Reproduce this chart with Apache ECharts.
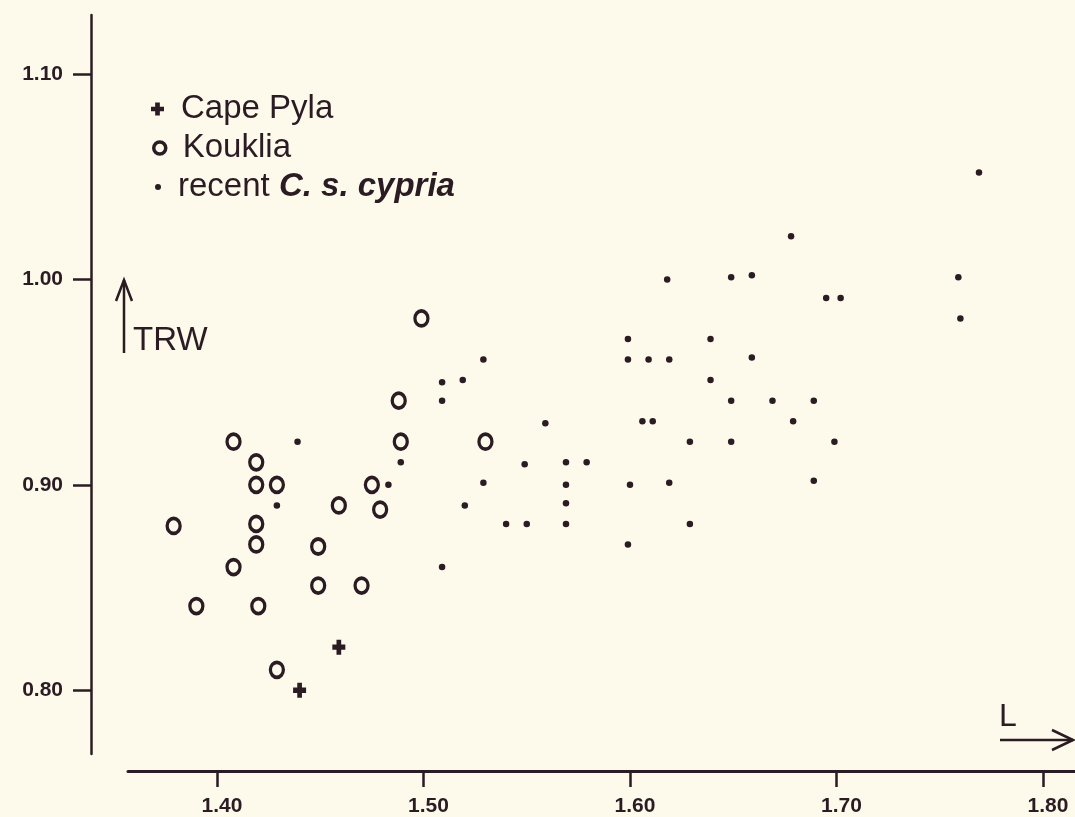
<!DOCTYPE html>
<html>
<head>
<meta charset="utf-8">
<script src="https://cdn.jsdelivr.net/npm/echarts@6/dist/echarts.min.js"></script>
<style>
html,body{margin:0;padding:0;background:#fdfaec;}
#chart{width:1075px;height:817px;}
</style>
</head>
<body>
<div id="chart"></div>
<script>
// ---- data ----
const xTicks = [1.40, 1.50, 1.60, 1.70, 1.80];
const yTicks = [0.80, 0.90, 1.00, 1.10];

const seriesNames = ['Cape Pyla', 'Kouklia', 'recent C. s. cypria'];

const capePylaL   = [1.459, 1.440];
const capePylaTRW = [0.821, 0.800];

const koukliaL   = [1.488, 1.408, 1.489, 1.419, 1.419, 1.429, 1.475, 1.459, 1.479, 1.379, 1.419,
                    1.419, 1.449, 1.408, 1.449, 1.470, 1.390, 1.420, 1.429, 1.499, 1.530];
const koukliaTRW = [0.941, 0.921, 0.921, 0.911, 0.900, 0.900, 0.900, 0.890, 0.888, 0.880, 0.881,
                    0.871, 0.870, 0.860, 0.851, 0.851, 0.841, 0.841, 0.810, 0.981, 0.921];

const recentL   = [1.509, 1.509, 1.439, 1.489, 1.483, 1.429, 1.509, 1.618,
                   1.599, 1.529, 1.599, 1.609, 1.619, 1.519, 1.559, 1.606, 1.611, 1.629,
                   1.549, 1.569, 1.579, 1.529, 1.569, 1.600, 1.619, 1.520, 1.569, 1.540,
                   1.550, 1.569, 1.629, 1.599,
                   1.678, 1.649, 1.659, 1.695, 1.702, 1.639, 1.659, 1.639, 1.649, 1.669,
                   1.689, 1.679, 1.649, 1.699, 1.689,
                   1.769, 1.759, 1.760];
const recentTRW = [0.950, 0.941, 0.921, 0.911, 0.900, 0.890, 0.860, 1.000,
                   0.971, 0.961, 0.961, 0.961, 0.961, 0.951, 0.930, 0.931, 0.931, 0.921,
                   0.910, 0.911, 0.911, 0.901, 0.900, 0.900, 0.901, 0.890, 0.891, 0.881,
                   0.881, 0.881, 0.881, 0.871,
                   1.021, 1.001, 1.002, 0.991, 0.991, 0.971, 0.962, 0.951, 0.941, 0.941,
                   0.941, 0.931, 0.921, 0.921, 0.902,
                   1.052, 1.001, 0.981];

// ---- chart ----
const ink = '#2b1b22';
const zip = (a, b) => a.map((v, i) => [v, b[i]]);
const crossPath = 'path://M3.2,0 L6.8,0 L6.8,3.2 L10,3.2 L10,6.8 L6.8,6.8 L6.8,10 L3.2,10 L3.2,6.8 L0,6.8 L0,3.2 L3.2,3.2 Z';
const font = '"Liberation Sans", Arial, Helvetica, sans-serif';

const chart = echarts.init(document.getElementById('chart'), null, {renderer: 'canvas'});

const legendText = {
  color: ink, fontFamily: font, fontSize: 33, lineHeight: 36,
  padding: [0, 0, 0, 12],
  rich: {
    n: {color: ink, fontFamily: font, fontSize: 33, lineHeight: 36},
    i: {color: ink, fontFamily: font, fontSize: 33, lineHeight: 36, fontStyle: 'italic', fontWeight: 'bold'}
  }
};

const option = {
  backgroundColor: '#fdfaec',
  animation: false,
  grid: {left: 128, right: 0, top: 15, bottom: 60, containLabel: false},
  xAxis: {
    type: 'value',
    min: 1.3569, max: 1.8155,
    offset: 17,
    axisLine: {show: true, lineStyle: {color: ink, width: 3}},
    axisTick: {show: true, length: 16, lineStyle: {color: ink, width: 2.5}, customValues: xTicks},
    axisLabel: {
      show: true, customValues: xTicks, margin: 25, color: ink, fontFamily: font, fontSize: 21,
      fontWeight: 'bold', padding: [0, 0, 0, 10],
      formatter: v => v.toFixed(2)
    },
    splitLine: {show: false}
  },
  yAxis: {
    type: 'value',
    min: 0.769, max: 1.1287,
    offset: 37,
    axisLine: {show: true, lineStyle: {color: ink, width: 2.5}},
    axisTick: {show: true, length: 18, lineStyle: {color: ink, width: 2.5}, customValues: yTicks},
    axisLabel: {
      show: true, customValues: yTicks, margin: 28, color: ink, fontFamily: font, fontSize: 21,
      fontWeight: 'bold',
      formatter: v => v.toFixed(2)
    },
    splitLine: {show: false}
  },
  legend: [
    {data: [seriesNames[0]], left: 146, top: 86, itemWidth: 13, itemHeight: 13, textStyle: legendText, selectedMode: false},
    {data: [seriesNames[1]], left: 147, top: 125, itemWidth: 12, itemHeight: 13, textStyle: legendText, selectedMode: false,
     itemStyle: {borderWidth: 3.5, borderColor: ink, color: 'rgba(0,0,0,0)'}},
    {data: [seriesNames[2]], left: 150, top: 164, itemWidth: 6, itemHeight: 6, textStyle: legendText, selectedMode: false,
     formatter: () => '{n|recent }{i|C. s. cypria}'}
  ],
  series: [
    {
      name: seriesNames[0], type: 'scatter', data: zip(capePylaL, capePylaTRW),
      symbol: crossPath, symbolSize: [13, 15],
      itemStyle: {color: ink, opacity: 1}
    },
    {
      name: seriesNames[1], type: 'scatter', data: zip(koukliaL, koukliaTRW),
      symbol: 'circle', symbolSize: [13, 15],
      itemStyle: {color: 'rgba(0,0,0,0)', borderColor: ink, borderWidth: 3.5, opacity: 1}
    },
    {
      name: seriesNames[2], type: 'scatter', data: zip(recentL, recentTRW),
      symbol: 'circle', symbolSize: 6.5,
      itemStyle: {color: ink, opacity: 1}
    }
  ],
  graphic: [
    // TRW axis annotation
    {type: 'polyline', shape: {points: [[124, 353], [124, 280]]}, style: {stroke: ink, lineWidth: 2.5}},
    {type: 'polyline', shape: {points: [[116, 301], [124, 280], [132, 301]]}, style: {stroke: ink, lineWidth: 2.5, fill: null}},
    {type: 'text', left: 133, top: 324, style: {text: 'TRW', fill: ink, font: '33px ' + font}},
    // L axis annotation
    {type: 'text', left: 999, top: 701, style: {text: 'L', fill: ink, font: '32px ' + font}},
    {type: 'polyline', shape: {points: [[1000, 740], [1073, 740]]}, style: {stroke: ink, lineWidth: 2.5}},
    {type: 'polyline', shape: {points: [[1052, 730], [1073, 740], [1052, 750]]}, style: {stroke: ink, lineWidth: 2.5, fill: null}}
  ]
};

chart.setOption(option);
</script>
</body>
</html>
